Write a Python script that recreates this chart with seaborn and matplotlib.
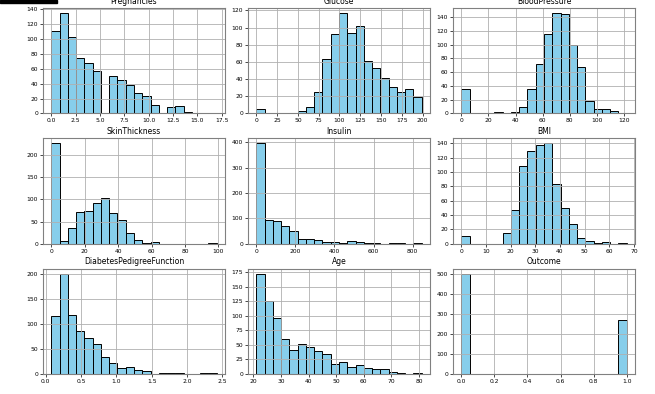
import numpy as np
import pandas as pd
import matplotlib
matplotlib.use("Agg")
import matplotlib.pyplot as plt
import seaborn as sns

# Column names, value ranges (min, max) and counts in each of 20 equal bins
columns = ["Pregnancies", "Glucose", "BloodPressure",
           "SkinThickness", "Insulin", "BMI",
           "DiabetesPedigreeFunction", "Age", "Outcome"]

pregnancies_range = (0, 17)
pregnancies_counts = [111, 135, 103, 75, 68, 57, 0, 50, 45, 38, 28, 24, 11, 0, 9, 10, 2, 1, 0, 1]

glucose_range = (0, 199)
glucose_counts = [5, 0, 0, 0, 1, 3, 7, 25, 63, 93, 117, 94, 102, 61, 53, 41, 31, 25, 28, 19]

bloodpressure_range = (0, 122)
bloodpressure_counts = [35, 0, 0, 1, 2, 0, 2, 10, 35, 72, 115, 146, 144, 99, 68, 18, 7, 7, 4, 1]

skinthickness_range = (0, 99)
skinthickness_counts = [227, 5, 35, 72, 73, 92, 104, 70, 53, 25, 8, 1, 3, 0, 0, 0, 0, 0, 0, 1]

insulin_range = (0, 846)
insulin_counts = [396, 92, 89, 68, 52, 18, 17, 13, 5, 5, 3, 9, 6, 1, 1, 0, 1, 1, 0, 1]

bmi_range = (0, 67.1)
bmi_counts = [11, 0, 0, 0, 0, 15, 47, 108, 129, 137, 140, 83, 50, 28, 8, 4, 1, 2, 0, 1]

dpf_range = (0.078, 2.42)
dpf_counts = [116, 201, 118, 87, 73, 61, 35, 21, 11, 14, 7, 6, 0, 1, 1, 1, 0, 0, 1, 2]

age_range = (21, 81)
age_counts = [173, 126, 96, 61, 41, 51, 47, 39, 34, 18, 21, 12, 15, 11, 8, 8, 3, 1, 0, 1]

outcome_range = (0, 1)
outcome_counts = [500, 0, 0, 0, 0, 0, 0, 0, 0, 0, 0, 0, 0, 0, 0, 0, 0, 0, 0, 268]

ranges = [pregnancies_range, glucose_range, bloodpressure_range,
          skinthickness_range, insulin_range, bmi_range,
          dpf_range, age_range, outcome_range]
counts = [pregnancies_counts, glucose_counts, bloodpressure_counts,
          skinthickness_counts, insulin_counts, bmi_counts,
          dpf_counts, age_counts, outcome_counts]

n_bins = 20

fig, axes = plt.subplots(3, 3, figsize=(6.55, 3.94), dpi=100)
fig.subplots_adjust(left=0.0656, right=0.9695, top=0.9797, bottom=0.0508,
                    wspace=0.126, hspace=0.236)

for ax, name, (lo, hi), cnt in zip(axes.flat, columns, ranges, counts):
    edges = np.linspace(lo, hi, n_bins + 1)
    df = pd.DataFrame({"value": (edges[:-1] + edges[1:]) / 2, "count": cnt})
    sns.histplot(data=df, x="value", weights="count", bins=edges.tolist(),
                 color="skyblue", edgecolor="black", linewidth=0.7, alpha=1, ax=ax)
    ax.set_xlabel("")
    ax.set_ylabel("")
    ax.set_title(name, fontsize=5.5, pad=3)
    ax.grid(True, color="#b0b0b0", linewidth=0.6)
    ax.tick_params(labelsize=4.3, length=2, width=0.5, pad=1.5)
    for s in ax.spines.values():
        s.set_color("#808080")
        s.set_linewidth(0.8)

# dark strip at the top-left corner of the screenshot
fig.patches.append(matplotlib.patches.Rectangle((0, 1 - 3 / 394), 57 / 655, 3 / 394,
                                                transform=fig.transFigure,
                                                color="black", zorder=10))

fig.savefig("out.png", dpi=100)
